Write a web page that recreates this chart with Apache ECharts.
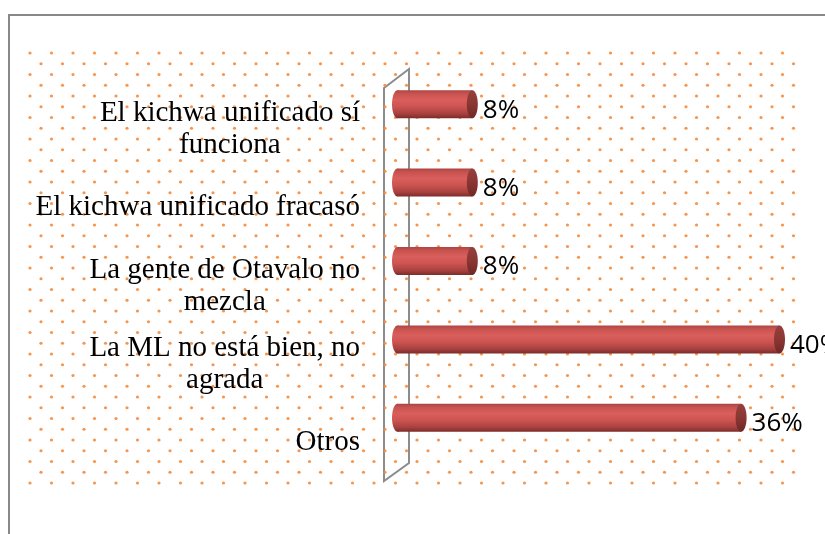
<!DOCTYPE html>
<html>
<head>
<meta charset="utf-8">
<script src="https://cdn.jsdelivr.net/npm/echarts@6/dist/echarts.min.js"></script>
<style>html,body{margin:0;padding:0;background:#fff;}#chart{width:825px;height:534px;}</style>
</head>
<body>
<div id="chart"></div>
<script>
const categories = [
  "El kichwa unificado sí\nfunciona",
  "El kichwa unificado fracasó",
  "La gente de Otavalo no\nmezcla",
  "La ML no está bien, no\nagrada",
  "Otros"
];
const values = [8, 8, 8, 40, 36];
const valueSuffix = "%";

const chart = echarts.init(document.getElementById('chart'));

// dotted background decoration
const dots = [];
for (let r = 0; r <= 40; r++) {
  const y = 53 + r * 10.75;
  const xs = (r % 2 === 0) ? 30 : 41;
  for (let c = 0; c < 36; c++) {
    dots.push({type: 'circle', shape: {cx: xs + c * 21.5, cy: y, r: 1.6}, style: {fill: '#f58a3a', opacity: 0.9}, silent: true});
  }
}

const bodyGrad = () => new echarts.graphic.LinearGradient(0, 0, 0, 1, [
  {offset: 0, color: '#a94543'},
  {offset: 0.12, color: '#c8524f'},
  {offset: 0.35, color: '#da5f5c'},
  {offset: 0.6, color: '#cb5350'},
  {offset: 0.85, color: '#a6403e'},
  {offset: 1, color: '#7a2c2a'}
]);
const capGrad = () => new echarts.graphic.LinearGradient(0, 0, 0, 1, [
  {offset: 0, color: '#95403d'},
  {offset: 0.5, color: '#8a3633'},
  {offset: 1, color: '#6f2826'}
]);

const serif = "'Liberation Serif', 'Times New Roman', 'DejaVu Serif', serif";

chart.setOption({
  animation: false,
  backgroundColor: '#ffffff',
  graphic: [
    {type: 'group', z: -10, silent: true, children: dots},
    {type: 'rect', z: -5, silent: true, shape: {x: 9, y: 15, width: 830, height: 530},
      style: {fill: 'none', stroke: '#888888', lineWidth: 2}},
    {type: 'polygon', z: -4, silent: true,
      shape: {points: [[384, 88], [409, 69], [409, 463], [384, 481]]},
      style: {fill: 'none', stroke: '#8c8c8c', lineWidth: 2}}
  ],
  grid: {left: 401, right: 40, top: 65, bottom: 77, containLabel: false},
  xAxis: {type: 'value', min: 0, max: 40, show: false},
  yAxis: {
    type: 'category', inverse: true, data: categories,
    axisLine: {show: false}, axisTick: {show: false}, splitLine: {show: false},
    axisLabel: {
      margin: 41,
      align: 'right',
      padding: [50, 0, 0, 0],
      fontFamily: serif,
      fontSize: 29,
      color: '#000',
      formatter: v => v.split('\n').map(s => '{c|' + s + '}').join('\n'),
      rich: {c: {align: 'center', fontFamily: serif, fontSize: 29, lineHeight: 32, color: '#000'}}
    }
  },
  series: [{
    type: 'custom',
    data: values.map((v, i) => [v, i]),
    encode: {x: 0, y: 1},
    renderItem: function (params, api) {
      const v = api.value(0), idx = api.value(1);
      const s = api.coord([0, idx]);
      const e = api.coord([v, idx]);
      const h = 28, rx = 5.5;
      const x0 = s[0] - 9, x1 = e[0], cy = s[1];
      return {
        type: 'group',
        children: [
          {type: 'ellipse', shape: {cx: x0 + rx, cy: cy, rx: rx, ry: h / 2}, style: {fill: bodyGrad()}},
          {type: 'rect', shape: {x: x0 + rx, y: cy - h / 2, width: (x1 - rx) - (x0 + rx), height: h}, style: {fill: bodyGrad()}},
          {type: 'ellipse', shape: {cx: x1 - rx, cy: cy, rx: rx, ry: h / 2}, style: {fill: capGrad()}},
          {type: 'text', style: {text: v + valueSuffix, x: x1 + 5, y: cy + 6, verticalAlign: 'middle', align: 'left',
            fontFamily: "'Open Sans', sans-serif", fontSize: 26, fill: '#000'}}
        ]
      };
    }
  }]
});
</script>
</body>
</html>
